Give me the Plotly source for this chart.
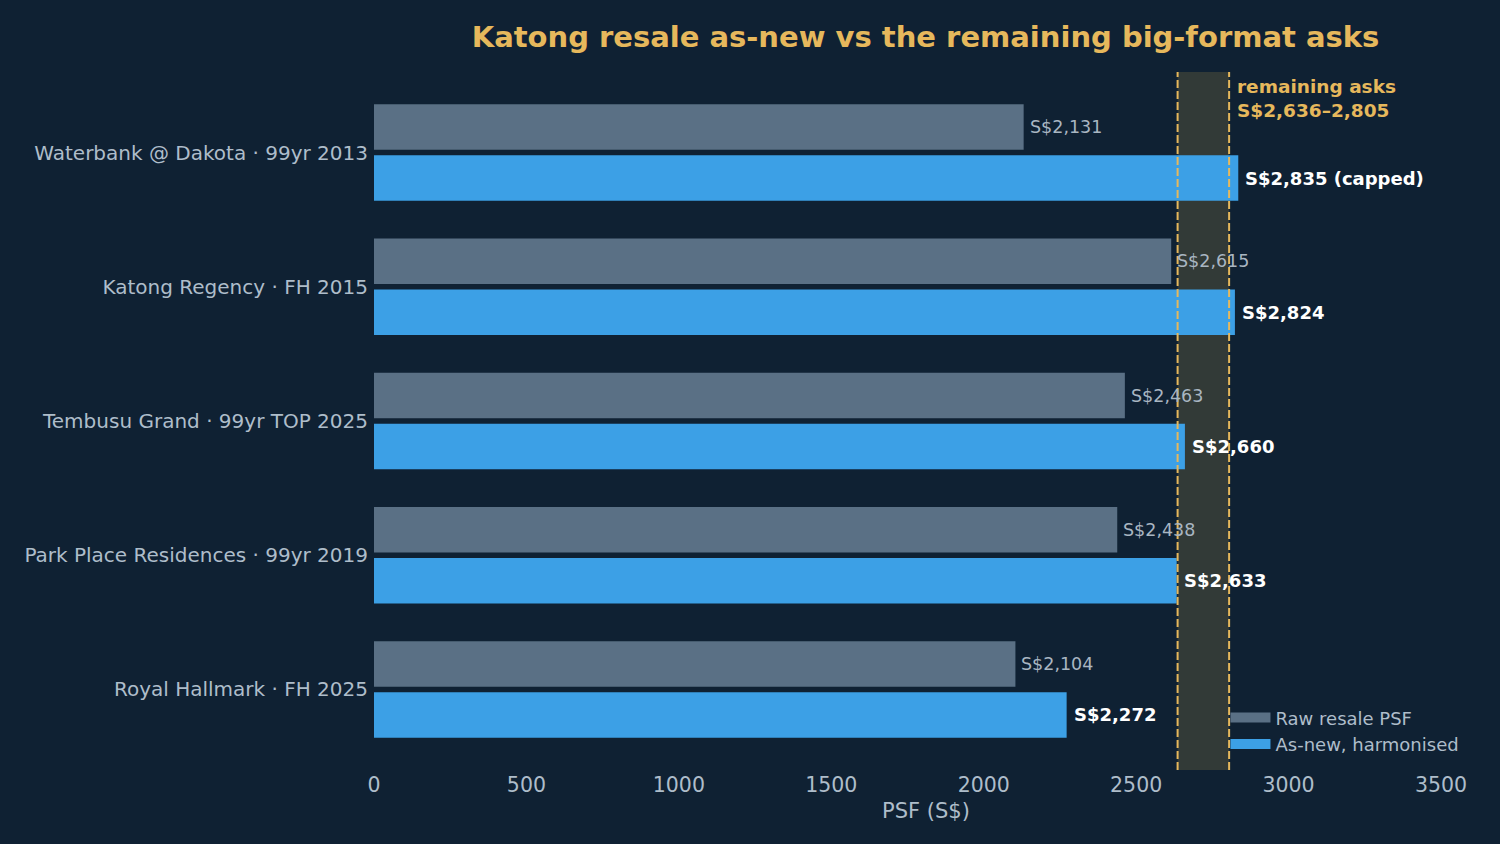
import plotly.graph_objects as go

categories = ["Waterbank @ Dakota · 99yr 2013", "Katong Regency · FH 2015",
              "Tembusu Grand · 99yr TOP 2025", "Park Place Residences · 99yr 2019",
              "Royal Hallmark · FH 2025"]
raw_psf = [2131, 2615, 2463, 2438, 2104]
asnew_psf = [2835, 2824, 2660, 2633, 2272]
asnew_labels = ["S$2,835 (capped)", "S$2,824", "S$2,660", "S$2,633", "S$2,272"]
band_lo, band_hi = 2636, 2805

BG = "#0f2133"
GOLD = "#e6b85c"
TXT = "#aebdca"
RAW_C = "#5a7085"
NEW_C = "#3ca0e6"

idx = list(range(len(categories)))
off = 0.19
w = 0.34

fig = go.Figure()
fig.add_trace(go.Bar(y=[i - off for i in idx], x=raw_psf, orientation="h", width=w,
                     marker=dict(color=RAW_C, line=dict(width=0)), showlegend=False))
fig.add_trace(go.Bar(y=[i + off for i in idx], x=asnew_psf, orientation="h", width=w,
                     marker=dict(color=NEW_C, line=dict(width=0)), showlegend=False))
# legend entries (wide rectangle swatches)
fig.add_trace(go.Scatter(x=[None], y=[None], mode="lines", line=dict(color=RAW_C, width=13),
                         name="Raw resale PSF"))
fig.add_trace(go.Scatter(x=[None], y=[None], mode="lines", line=dict(color=NEW_C, width=13),
                         name="As-new, harmonised"))

anns = []
for i, v in enumerate(raw_psf):
    anns.append(dict(x=v, y=i - off, xref="x", yref="y", text=f"S${v:,}", showarrow=False,
                     xanchor="left", yanchor="middle", xshift=4,
                     font=dict(family="DejaVu Sans", size=17.5, color="#a9b6c2")))
for i, v in enumerate(asnew_psf):
    anns.append(dict(x=v, y=i + off, xref="x", yref="y", text=f"<b>{asnew_labels[i]}</b>", showarrow=False,
                     xanchor="left", yanchor="middle", xshift=5,
                     font=dict(family="DejaVu Sans", size=18, color="#ffffff")))
anns.append(dict(x=band_hi, y=1, xref="x", yref="paper", xanchor="left", yanchor="top",
                 xshift=6, yshift=-2, align="left", showarrow=False,
                 text=f"<b>remaining asks<br>S${band_lo:,}–{band_hi:,}</b>",
                 font=dict(family="DejaVu Sans", size=18.5, color=GOLD)))
anns.append(dict(x=0.517, y=-0.039, xref="paper", yref="paper", xanchor="center", yanchor="top",
                 showarrow=False, text="PSF (S$)",
                 font=dict(family="DejaVu Sans", size=21, color=TXT)))

shapes = [
    dict(type="rect", x0=band_lo, x1=band_hi, xref="x", y0=0, y1=1, yref="paper",
         fillcolor="#323a37", line=dict(width=0), layer="below"),
    dict(type="line", x0=band_lo, x1=band_lo, xref="x", y0=0, y1=1, yref="paper",
         line=dict(color=GOLD, width=2, dash="8px,3px"), layer="above"),
    dict(type="line", x0=band_hi, x1=band_hi, xref="x", y0=0, y1=1, yref="paper",
         line=dict(color=GOLD, width=2, dash="8px,3px"), layer="above"),
]

fig.update_layout(
    width=1500, height=844,
    paper_bgcolor=BG, plot_bgcolor=BG,
    margin=dict(l=374, r=59, t=72, b=74),
    barmode="overlay",
    font=dict(family="DejaVu Sans", color=TXT),
    title=dict(text="<b>Katong resale as-new vs the remaining big-format asks</b>",
               x=0.617, xanchor="center", y=0.956, yanchor="middle",
               font=dict(family="DejaVu Sans", size=29, color=GOLD)),
    xaxis=dict(range=[0, 3500], tickvals=[0, 500, 1000, 1500, 2000, 2500, 3000, 3500],
               showgrid=False, zeroline=False, showline=False, ticks="",
               tickfont=dict(size=20.5, color=TXT)),
    yaxis=dict(range=[4.6, -0.6], tickvals=idx, ticktext=categories,
               showgrid=False, zeroline=False, showline=False, ticks="",
               tickfont=dict(size=20, color=TXT), ticklabelstandoff=5),
    legend=dict(x=0.798, y=0.011, xanchor="left", yanchor="bottom",
                bgcolor="rgba(0,0,0,0)", font=dict(size=18, color=TXT),
                traceorder="normal", itemwidth=40),
    annotations=anns,
    shapes=shapes,
)

fig.write_html("out.html")
